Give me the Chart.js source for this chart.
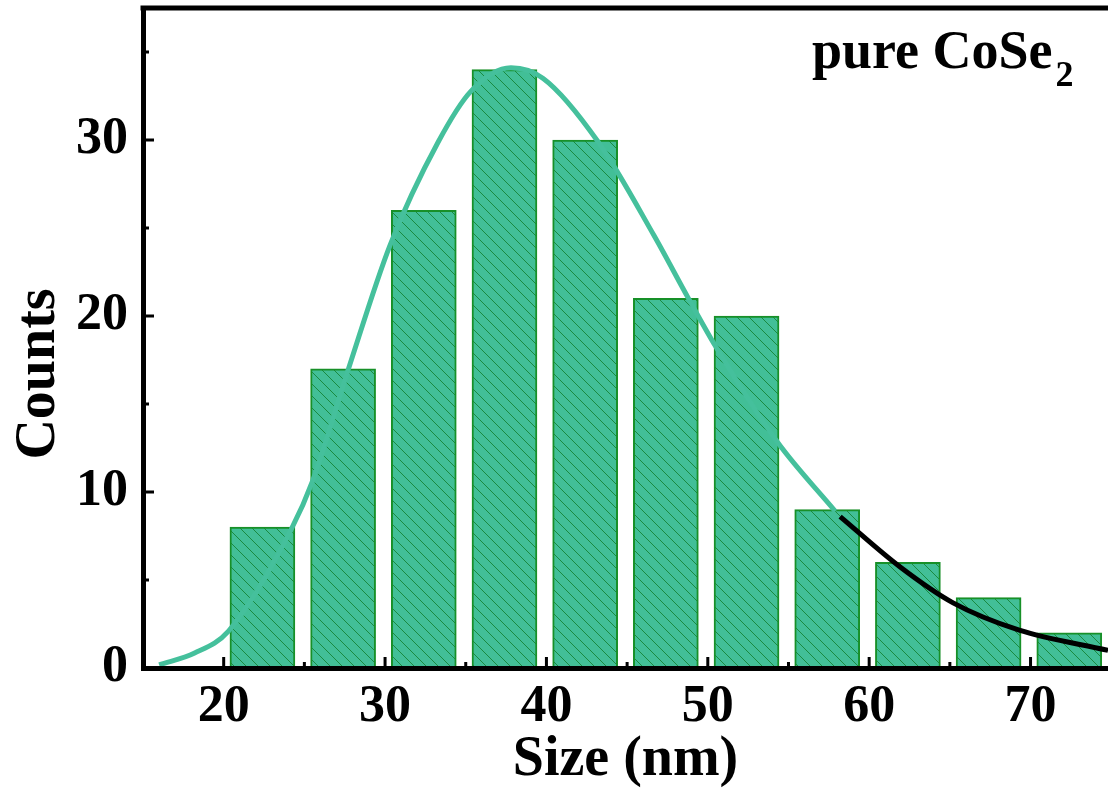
<!DOCTYPE html>
<html lang="en">

<head>
    <meta charset="UTF-8">
    <title>pure CoSe2 size distribution</title>
    <script src="https://cdn.jsdelivr.net/npm/chart.js"></script>
    <style>
        body { margin: 0; background: #ffffff; }
        canvas { display: block; }
    </style>
</head>

<body>
    <canvas id="histChart" width="1108" height="798"></canvas>

    <script>
        // histogram bins (bin centre in nm) and counts
        const binCenters = [22.4, 27.4, 32.4, 37.4, 42.4, 47.4, 52.4, 57.4, 62.4, 67.4, 72.4];
        const counts = [8, 17, 26, 34, 30, 21, 20, 9, 6, 4, 2];

        // fitted distribution curve
        const fitX = [16.0, 18.2, 20.3, 24.2, 25.5, 27.7, 30.3, 33.3, 35.3, 37.8, 39.8, 43.2, 46.65, 48.8, 50.5, 54.3, 57.9];
        const fitY = [0.18, 0.85, 2.1, 7.9, 10.6, 16.9, 24.0, 29.9, 32.75, 34.1, 33.5, 29.9, 24.6, 21.0, 18.25, 12.85, 8.9];

        // tail curve (black)
        const tailX = [58.2, 61.9, 65.2, 69.3, 74.8];
        const tailY = [8.6, 5.75, 3.7, 2.15, 1.0];

        const xTicks = [20, 30, 40, 50, 60, 70];
        const xMinor = [25, 35, 45, 55, 65];
        const yTicks = [0, 10, 20, 30];
        const yMinor = [5, 15, 25, 35];

        const FONT = "'Times New Roman', 'Liberation Serif', serif";

        function hatchPattern() {
            const c = document.createElement('canvas');
            c.width = 12;
            c.height = 12;
            const g = c.getContext('2d');
            g.fillStyle = '#42bf97';
            g.fillRect(0, 0, 12, 12);
            g.strokeStyle = '#1a8a40';
            g.lineWidth = 1;
            g.beginPath();
            g.moveTo(-2, -2); g.lineTo(14, 14);
            g.moveTo(-2, 10); g.lineTo(2, 14);
            g.moveTo(10, -2); g.lineTo(14, 2);
            g.stroke();
            return g.createPattern(c, 'repeat');
        }

        const framePlugin = {
            id: 'frame',
            afterDraw(chart) {
                const ctx = chart.ctx;
                const area = chart.chartArea;
                const xs = chart.scales.x;
                const ys = chart.scales.y;
                ctx.save();
                ctx.fillStyle = '#000';
                // top border
                ctx.fillRect(area.left - 2.5, area.top - 2.5, area.right - area.left + 3, 5);
                // inward ticks
                xTicks.forEach(v => {
                    const px = xs.getPixelForValue(v);
                    ctx.fillRect(px - 1.5, area.bottom - 11, 3, 11);
                });
                xMinor.forEach(v => {
                    const px = xs.getPixelForValue(v);
                    ctx.fillRect(px - 1.5, area.bottom - 6, 3, 6);
                });
                yTicks.forEach(v => {
                    const py = ys.getPixelForValue(v);
                    ctx.fillRect(area.left, py - 1.5, 11, 3);
                });
                yMinor.forEach(v => {
                    const py = ys.getPixelForValue(v);
                    ctx.fillRect(area.left, py - 1.5, 6, 3);
                });
                // y axis title
                ctx.save();
                ctx.translate(40, 374);
                ctx.rotate(-Math.PI / 2);
                ctx.textAlign = 'center';
                ctx.textBaseline = 'middle';
                ctx.font = 'bold 56px ' + FONT;
                ctx.fillText('Counts', 0, 0);
                ctx.restore();
                // sample label
                ctx.textAlign = 'left';
                ctx.textBaseline = 'alphabetic';
                ctx.font = 'bold 54px ' + FONT;
                ctx.fillText('pure CoSe', 812, 68);
                const w = ctx.measureText('pure CoSe').width;
                ctx.font = 'bold 36px ' + FONT;
                ctx.fillText('2', 812 + w + 3, 86);
                ctx.restore();
            }
        };

        const ctx = document.getElementById('histChart').getContext('2d');
        new Chart(ctx, {
            type: 'bar',
            data: {
                datasets: [{
                    type: 'line',
                    data: fitX.map((x, i) => ({ x: x, y: fitY[i] })),
                    borderColor: '#45c09c',
                    borderWidth: 5,
                    pointRadius: 0,
                    cubicInterpolationMode: 'monotone',
                    order: 0
                }, {
                    type: 'line',
                    data: tailX.map((x, i) => ({ x: x, y: tailY[i] })),
                    borderColor: '#000000',
                    borderWidth: 5,
                    pointRadius: 0,
                    cubicInterpolationMode: 'monotone',
                    order: 0
                }, {
                    type: 'bar',
                    data: binCenters.map((x, i) => ({ x: x, y: counts[i] })),
                    backgroundColor: hatchPattern(),
                    borderColor: '#179028',
                    borderWidth: 2,
                    borderSkipped: false,
                    barThickness: 65,
                    order: 1
                }]
            },
            options: {
                responsive: false,
                animation: false,
                layout: { padding: { top: 8, right: 0, left: 0, bottom: 0 } },
                plugins: {
                    legend: { display: false },
                    tooltip: { enabled: false }
                },
                scales: {
                    x: {
                        type: 'linear',
                        offset: false,
                        min: 15,
                        max: 74.8,
                        afterFit: s => { s.height = 130; s.paddingLeft = 0; s.paddingRight = 0; },
                        afterBuildTicks: s => { s.ticks = xTicks.map(v => ({ value: v })); },
                        grid: { display: false, drawTicks: false },
                        border: { display: true, color: '#000', width: 5, z: 1 },
                        ticks: {
                            color: '#000',
                            padding: 8,
                            maxRotation: 0,
                            font: { family: FONT, size: 52, weight: 'bold' }
                        },
                        title: {
                            display: true,
                            text: 'Size (nm)',
                            color: '#000',
                            padding: { top: 0, bottom: 4 },
                            font: { family: FONT, size: 56, weight: 'bold' }
                        }
                    },
                    y: {
                        min: 0,
                        max: 37.5,
                        afterFit: s => { s.width = 143; s.paddingTop = 0; s.paddingBottom = 0; },
                        afterBuildTicks: s => { s.ticks = yTicks.map(v => ({ value: v })); },
                        grid: { display: false, drawTicks: false },
                        border: { display: true, color: '#000', width: 5, z: 1 },
                        ticks: {
                            color: '#000',
                            padding: 15,
                            font: { family: FONT, size: 52, weight: 'bold' }
                        }
                    }
                }
            },
            plugins: [framePlugin]
        });
    </script>
</body>

</html>
